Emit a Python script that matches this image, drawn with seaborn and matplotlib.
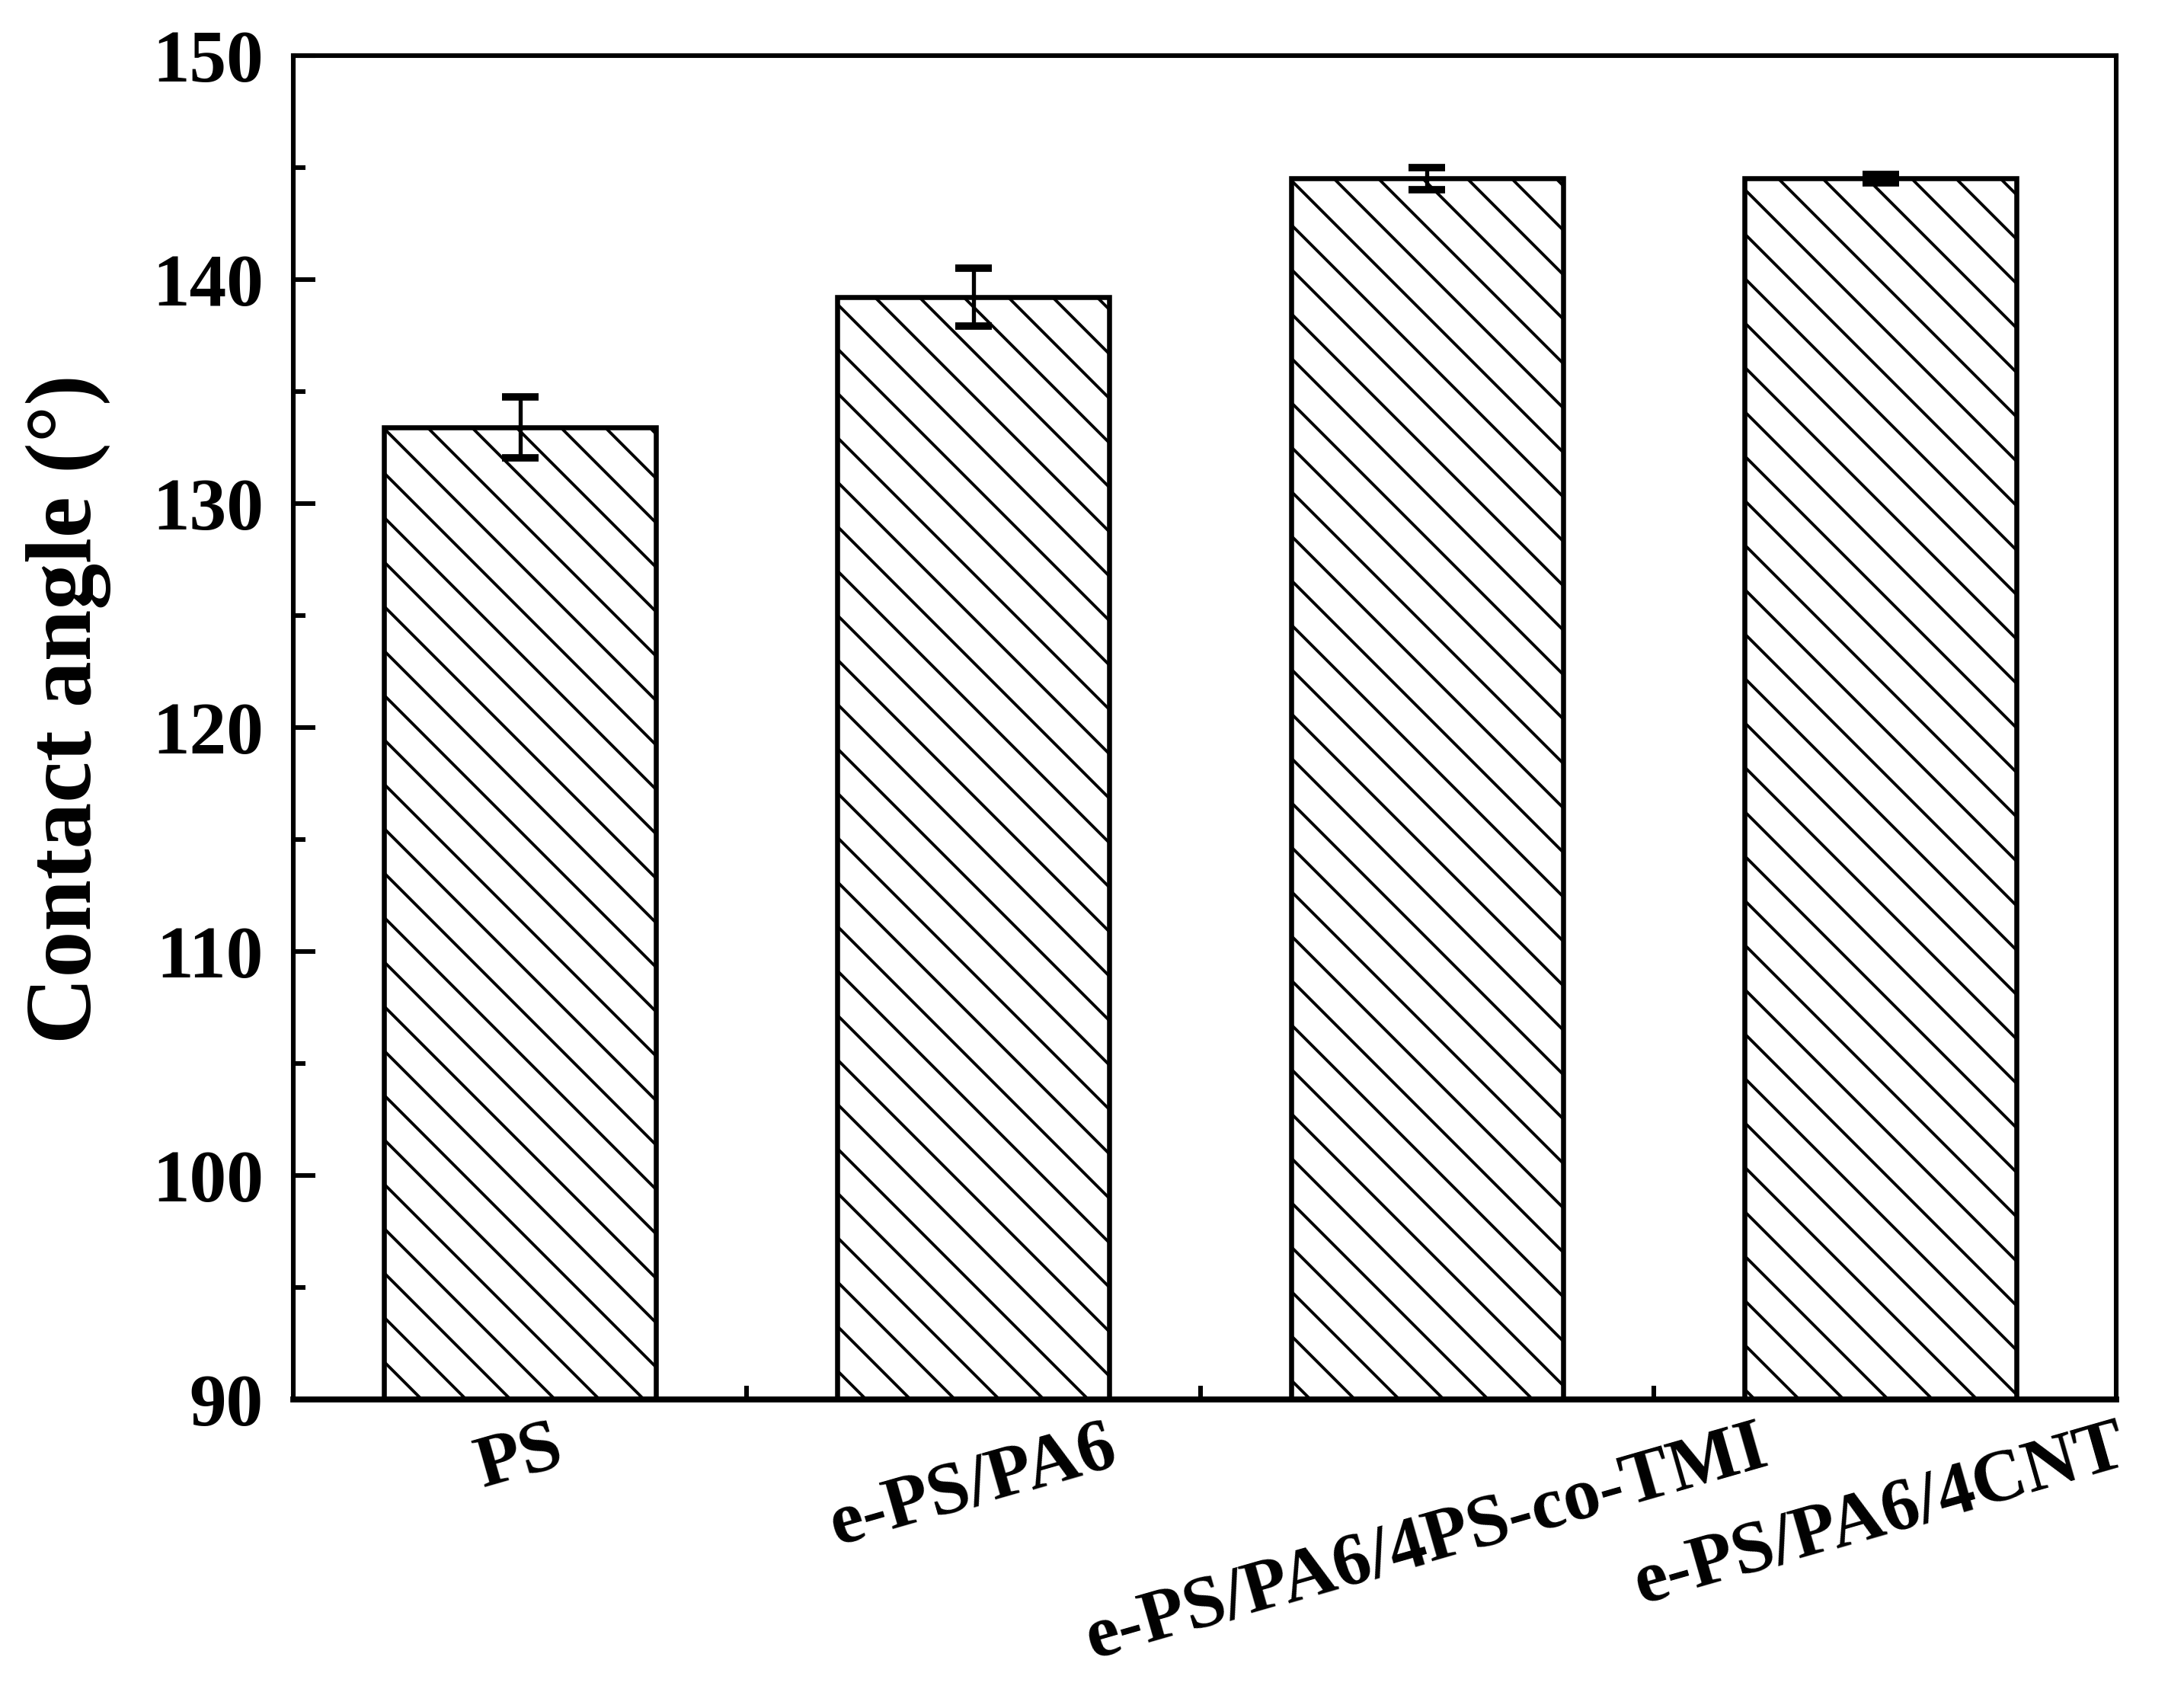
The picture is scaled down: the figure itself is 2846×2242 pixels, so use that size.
import numpy as np
import pandas as pd
import matplotlib
matplotlib.use("Agg")
import matplotlib.pyplot as plt
from matplotlib.ticker import MultipleLocator, FixedLocator
import seaborn as sns

# values
samples = ["PS", "e-PS/PA6", "e-PS/PA6/4PS-co-TMI", "e-PS/PA6/4CNT"]
contact_angle = [133.4, 139.2, 144.5, 144.5]
angle_err = [1.35, 1.3, 0.5, 0.2]

sns.set_theme(style="ticks")
plt.rcParams["font.family"] = "serif"
plt.rcParams["font.serif"] = ["Liberation Serif", "DejaVu Serif"]
plt.rcParams["font.weight"] = "bold"
plt.rcParams["text.color"] = "black"
plt.rcParams["axes.labelcolor"] = "black"
plt.rcParams["xtick.color"] = "black"
plt.rcParams["ytick.color"] = "black"
plt.rcParams["hatch.linewidth"] = 0.8
plt.rcParams["hatch.color"] = "black"

df = pd.DataFrame({"sample": samples, "angle": contact_angle})

fig = plt.figure(figsize=(2847 / 350, 2242 / 350), dpi=350)
ax = fig.add_axes([0.1352, 0.1806, 0.8406, 0.787])

sns.barplot(data=df, x="sample", y="angle", color="white", edgecolor="black",
            linewidth=1.35, width=0.6, errorbar=None, ax=ax)
for bar in ax.patches:
    bar.set_hatch("\\\\")
    bar.set_facecolor("white")

# error bars on the bar centres
xs = [p.get_x() + p.get_width() / 2 for p in ax.patches]
ax.errorbar(xs, df["angle"], yerr=angle_err, fmt="none", ecolor="black",
            elinewidth=1.1, capsize=5, capthick=2.0, zorder=5)

ax.set_ylim(90, 150)
ax.set_xlim(-0.5, 3.52)
ax.yaxis.set_major_locator(MultipleLocator(10))
ax.yaxis.set_minor_locator(MultipleLocator(5))
ax.xaxis.set_minor_locator(FixedLocator([0.5, 1.5, 2.5]))

for side in ["left", "right", "top", "bottom"]:
    ax.spines[side].set_visible(True)
    ax.spines[side].set_linewidth(1.25)
    ax.spines[side].set_color("black")
ax.spines["bottom"].set_linewidth(1.6)

ax.tick_params(axis="both", which="both", direction="in", color="black",
               width=1.25, top=False, right=False)
ax.tick_params(axis="y", which="major", length=6, pad=8, labelsize=20)
ax.tick_params(axis="y", which="minor", length=3.2)
ax.tick_params(axis="x", which="major", length=5.6, pad=4, labelsize=20)
ax.tick_params(axis="x", which="minor", length=3.7)

for lab in ax.get_xticklabels():
    lab.set_rotation(16)
    lab.set_ha("center")
    lab.set_va("top")
    lab.set_fontweight("bold")
for lab in ax.get_yticklabels():
    lab.set_fontweight("bold")

ax.set_xlabel("")
ax.set_ylabel("Contact angle (°)", fontsize=25, fontweight="bold")
ax.yaxis.set_label_coords(-0.10, 0.514)

fig.savefig("out.png", dpi=350, facecolor="white")
